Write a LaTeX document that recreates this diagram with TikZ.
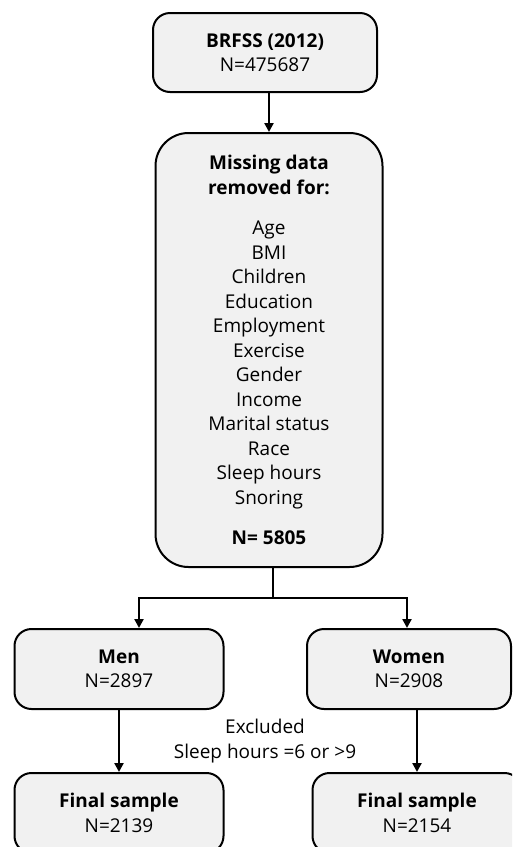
\documentclass[tikz,border=0pt]{standalone}
\usepackage{fontspec}
\setmainfont{Open Sans}
\usetikzlibrary{arrows.meta,calc}
\definecolor{boxgray}{HTML}{F1F1F1}
\tikzset{
  box/.style={draw, line width=2pt, fill=boxgray, rounded corners=17pt, align=center, inner sep=0pt, font=\fontsize{19}{24.5}\selectfont},
  arr/.style={line width=2.3pt, -{Triangle[length=9pt,width=9pt]}},
}

\begin{document}
\begin{tikzpicture}[x=1pt,y=-1pt]
\clip (0,0) rectangle (512,847);
\node[box, minimum width=224pt, minimum height=79pt] (brfss) at (265,52.5) {\textbf{BRFSS (2012)}\\N=475687};
\node[box, rounded corners=33pt, minimum width=227pt, minimum height=434pt] (mid) at (269,350)
  {\textbf{Missing data}\\\textbf{removed for:}\\[16pt]Age\\BMI\\Children\\Education\\Employment\\Exercise\\Gender\\Income\\Marital status\\Race\\Sleep hours\\Snoring\\[16pt]\textbf{N= 5805}};
\node[box, minimum width=209pt, minimum height=80pt] (men) at (119,669) {\textbf{Men}\\N=2897};
\node[box, minimum width=204pt, minimum height=80pt] (women) at (409,669) {\textbf{Women}\\N=2908};
\node[box, minimum width=209pt, minimum height=80pt] (mfinal) at (119,813) {\textbf{Final sample}\\N=2139};
\node[box, minimum width=209pt, minimum height=80pt] (wfinal) at (417,813) {\textbf{Final sample}\\N=2154};
\node[align=center, font=\fontsize{19}{24.5}\selectfont] (excl) at (265,741) {Excluded\\Sleep hours =6 or >9};
% connectors
\coordinate (split) at (273,598);
\draw[arr] (brfss.south -| mid.north) -- (mid.north);
\draw[line width=2.3pt] (mid.south -| split) -- (split);
\draw[arr] (split) -| ([xshift=20pt]men.north);
\draw[arr] (split) -| ([xshift=-2pt]women.north);
\draw[arr] (men) -- (mfinal);
\draw[arr] (wfinal.north |- women.south) -- (wfinal.north);
\end{tikzpicture}
\end{document}
